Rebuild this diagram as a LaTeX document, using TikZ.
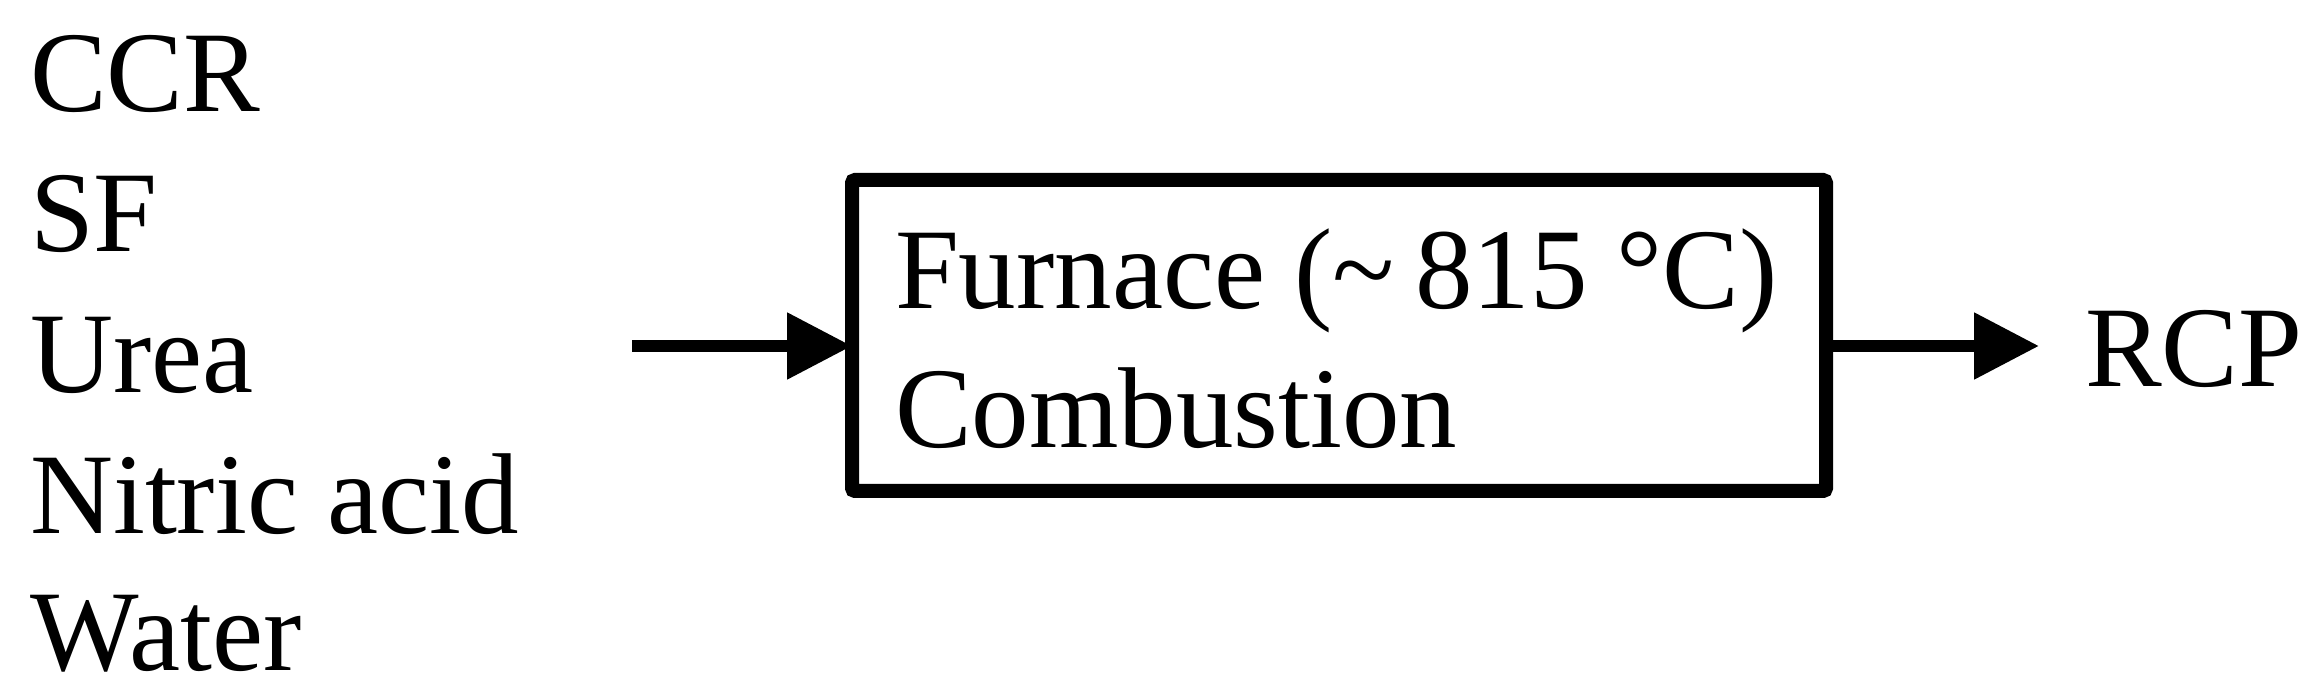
\documentclass[tikz,border=0pt]{standalone}
\usepackage{fontspec}
\setmainfont{Liberation Serif}
\usetikzlibrary{arrows.meta}
\begin{document}
\begin{tikzpicture}[x=0.5pt,y=-0.5pt,
  lbl/.style={anchor=base west,inner sep=0pt,outer sep=0pt,font=\fontsize{57.5}{68}\selectfont},
  procbox/.style={draw,line width=7pt,minimum width=487pt,minimum height=155.5pt,inner sep=0pt,outer sep=0pt,rounded corners=1.5pt},
  flow/.style={line width=6pt,-{Triangle[length=32.5pt,width=32pt]}}]
\useasboundingbox (0,0) rectangle (2322,694);
\node[lbl] (ccr) at (30,112) {CCR};
\node[lbl] (sf) at (30,252) {SF};
\node[lbl] (urea) at (30,393) {Urea};
\node[lbl] (nitric) at (30,533) {Nitric acid};
\node[lbl] (water) at (30,670) {Water};
\node[procbox] (furnace) at (1339,335.5) {};
\node[lbl] (t1) at (895,309) {Furnace (\char"7E\hspace{0.18em}815 °C)};
\node[lbl] (t2) at (895,448) {Combustion};
\node[lbl] (rcp) at (2085,387) {RCP};
\coordinate (instart) at (632,346);
\coordinate (outend) at (2039,346);
\draw[flow] (instart) -- (instart -| furnace.west);
\draw[flow] (furnace.east |- outend) -- (outend);
\end{tikzpicture}
\end{document}
